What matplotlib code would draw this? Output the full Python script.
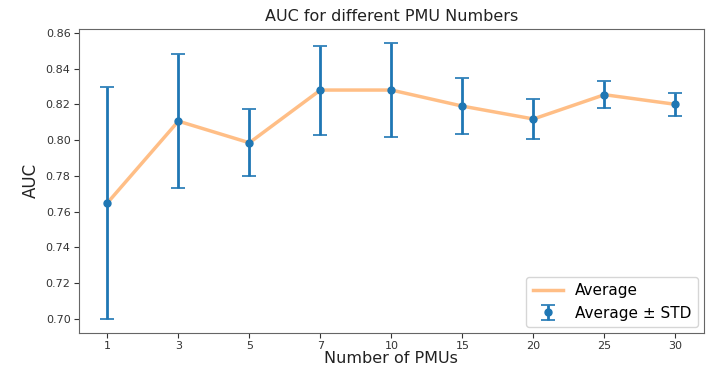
import matplotlib
matplotlib.use('Agg')
import matplotlib.pyplot as plt

pmu_labels = ['1', '3', '5', '7', '10', '15', '20', '25', '30']
auc_mean = [0.7648, 0.8106, 0.7985, 0.8280, 0.8280, 0.8190, 0.8118, 0.8254, 0.8200]
auc_std = [0.0650, 0.0375, 0.0188, 0.0249, 0.0265, 0.0158, 0.0112, 0.0077, 0.0063]

fig, ax = plt.subplots(figsize=(7.11, 3.70), dpi=100)
fig.subplots_adjust(left=0.111, right=0.990, bottom=0.10, top=0.922)

x = range(len(pmu_labels))
ax.plot(x, auc_mean, color='#ff7f0e', alpha=0.5, linewidth=2.5, label='Average')
ax.errorbar(x, auc_mean, yerr=auc_std, fmt='o', color='#1f77b4', markersize=5,
            elinewidth=2, capsize=5, capthick=1.2, label='Average \u00b1 STD')

ax.set_xticks(list(x))
ax.set_xticklabels(pmu_labels)
ax.tick_params(labelsize=8, colors='#333333', pad=2.5)
ax.set_yticks([0.70, 0.72, 0.74, 0.76, 0.78, 0.80, 0.82, 0.84, 0.86])
ax.set_title('AUC for different PMU Numbers', fontsize=11.5, color='#222222')
ax.set_xlabel('Number of PMUs', fontsize=11.5, color='#222222', labelpad=0)
ax.set_ylabel('AUC', fontsize=12, color='#222222')
for s in ax.spines.values():
    s.set_color('#666666')
ax.legend(loc='lower right', fontsize=11, borderaxespad=0.4)

plt.savefig('out.png')
